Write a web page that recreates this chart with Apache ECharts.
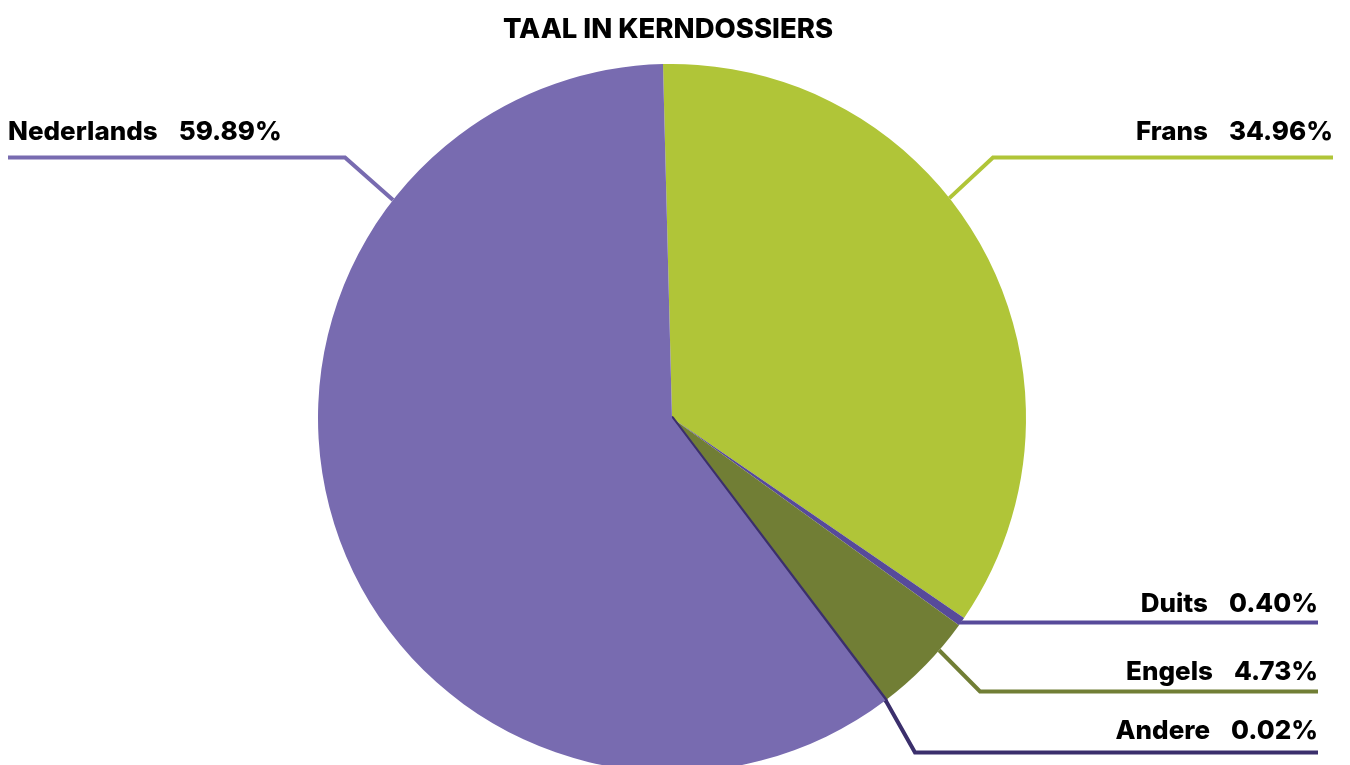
<!DOCTYPE html>
<html>
<head>
<meta charset="utf-8">
<script src="https://cdn.jsdelivr.net/npm/echarts@6/dist/echarts.min.js"></script>
<style>
  html, body { margin: 0; padding: 0; background: #ffffff; }
  #chart { width: 1350px; height: 765px; }
</style>
</head>
<body>
<div id="chart"></div>
<script>
// ---- Data ----
const categories = ['Frans', 'Duits', 'Engels', 'Andere', 'Nederlands'];
const values = [34.96, 0.40, 4.73, 0.02, 59.89];
const colors = ['#B0C538', '#574A9A', '#717E35', '#3B2F6C', '#786BB0'];
const titleText = 'TAAL IN KERNDOSSIERS';

// ---- Layout (label placement, not data) ----
const CX = 672, CY = 418, R = 354;
const labelPlacement = [
  { angle: 38.4,  lineY: 157.5, elbowX: 993,  endX: 1333, textY: 132, side: 'right' },
  { angle: -35.1, lineY: 622.5, elbowX: null, endX: 1318, textY: 604, side: 'right' },
  { angle: -41,   lineY: 691.5, elbowX: 980,  endX: 1318, textY: 672, side: 'right' },
  { angle: -52.9, lineY: 752.5, elbowX: 915,  endX: 1318, textY: 731, side: 'right' },
  { angle: 142,   lineY: 157.5, elbowX: 345,  endX: 8,    textY: 132, side: 'left' }
];

const chart = echarts.init(document.getElementById('chart'));

const seriesData = categories.map((name, i) => {
  const item = {
    name: name,
    value: values[i],
    itemStyle: { color: colors[i] },
    labelLine: { lineStyle: { color: colors[i] } }
  };
  if (name === 'Andere') {
    item.itemStyle.borderColor = colors[i];
    item.itemStyle.borderWidth = 4;
  }
  return item;
});

const option = {
  animation: false,
  backgroundColor: '#ffffff',
  title: {
    text: titleText,
    left: 663,
    textAlign: 'center',
    top: 11,
    textStyle: {
      fontFamily: 'Inter',
      fontWeight: 800,
      fontSize: 27.5,
      color: '#000000'
    }
  },
  series: [{
    type: 'pie',
    center: [CX, CY],
    radius: R,
    startAngle: 91.46,
    clockwise: true,
    avoidLabelOverlap: false,
    emphasis: { disabled: true },
    data: seriesData,
    label: {
      show: true,
      formatter: function (p) {
        return '{n|' + p.name + '}{v|' + p.value.toFixed(2) + '%}';
      },
      rich: {
        n: { fontFamily: 'Inter', fontWeight: 800, fontSize: 26, color: '#000', lineHeight: 30 },
        v: { fontFamily: 'Inter', fontWeight: 800, fontSize: 26, color: '#000', lineHeight: 30, padding: [0, 0, 0, 21] }
      }
    },
    labelLine: {
      show: true,
      length: 20,
      length2: 20,
      lineStyle: { width: 4 }
    },
    labelLayout: function (params) {
      const lp = labelPlacement[params.dataIndex];
      const a = lp.angle * Math.PI / 180;
      const x0 = CX + R * Math.cos(a);
      const y0 = CY - R * Math.sin(a);
      const ex = lp.elbowX == null ? x0 : lp.elbowX;
      return {
        x: lp.endX,
        y: lp.textY,
        align: lp.side === 'right' ? 'right' : 'left',
        verticalAlign: 'middle',
        labelLinePoints: [[x0, y0], [ex, lp.lineY], [lp.endX, lp.lineY]]
      };
    }
  }]
};

chart.setOption(option);
</script>
</body>
</html>
